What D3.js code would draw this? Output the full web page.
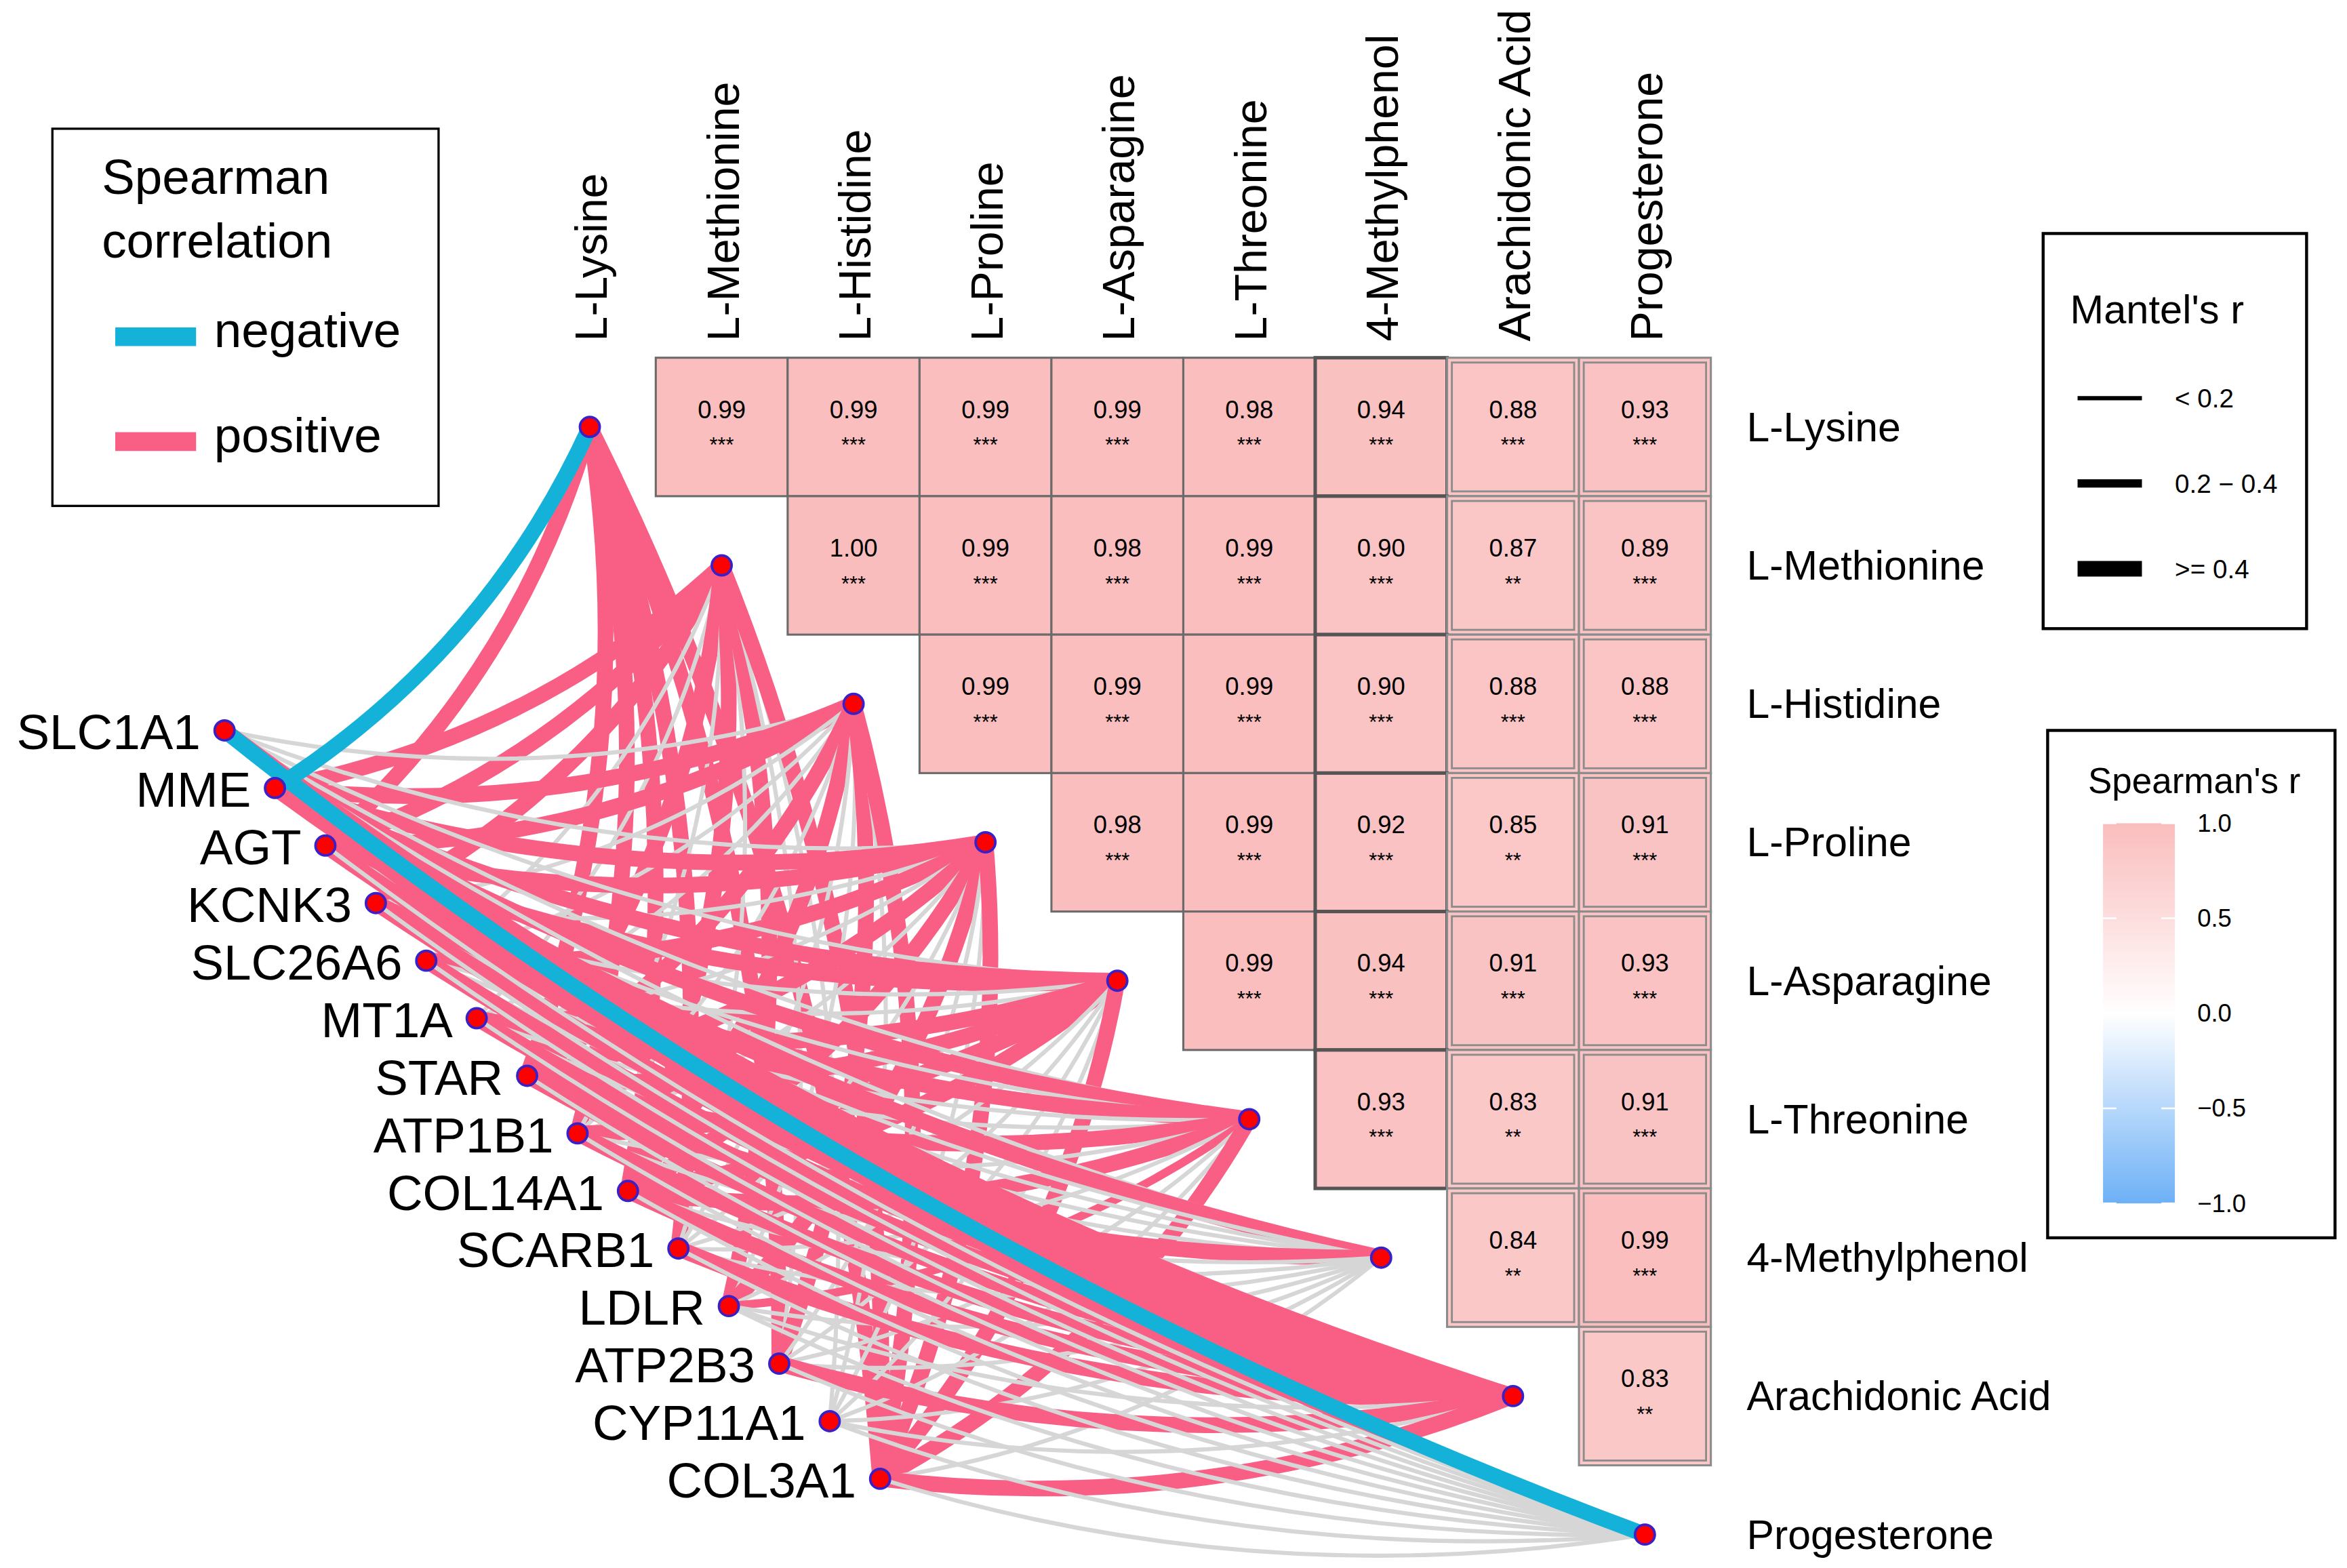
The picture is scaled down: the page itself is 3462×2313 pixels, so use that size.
<!DOCTYPE html>
<html><head><meta charset="utf-8">
<script src="https://cdn.jsdelivr.net/npm/d3@7"></script>
<style>
html,body{margin:0;padding:0;background:#fff;}
svg{display:block;}
text{font-family:"Liberation Sans",Arial,Helvetica,sans-serif;fill:#000;}
</style>
</head><body>
<svg id="chart" width="3462" height="2313" viewBox="0 0 1568 1047.6"></svg>
<script>
// ---------------- DATA ----------------
const metabolites = ["L-Lysine","L-Methionine","L-Histidine","L-Proline","L-Asparagine","L-Threonine","4-Methylphenol","Arachidonic Acid","Progesterone"];
const genes = ["SLC1A1","MME","AGT","KCNK3","SLC26A6","MT1A","STAR","ATP1B1","COL14A1","SCARB1","LDLR","ATP2B3","CYP11A1","COL3A1"];

// Spearman r between metabolites (upper triangle, row i starts at column i+1)
const rLysine      = [0.99,0.99,0.99,0.99,0.98,0.94,0.88,0.93];
const rMethionine  = [1.00,0.99,0.98,0.99,0.90,0.87,0.89];
const rHistidine   = [0.99,0.99,0.99,0.90,0.88,0.88];
const rProline     = [0.98,0.99,0.92,0.85,0.91];
const rAsparagine  = [0.99,0.94,0.91,0.93];
const rThreonine   = [0.93,0.83,0.91];
const rMethylphenol= [0.84,0.99];
const rArachidonic = [0.83];
const corrRows = [rLysine,rMethionine,rHistidine,rProline,rAsparagine,rThreonine,rMethylphenol,rArachidonic];

const sLysine      = ["***","***","***","***","***","***","***","***"];
const sMethionine  = ["***","***","***","***","***","**","***"];
const sHistidine   = ["***","***","***","***","***","***"];
const sProline     = ["***","***","***","**","***"];
const sAsparagine  = ["***","***","***","***"];
const sThreonine   = ["***","**","***"];
const sMethylphenol= ["**","***"];
const sArachidonic = ["**"];
const starRows = [sLysine,sMethionine,sHistidine,sProline,sAsparagine,sThreonine,sMethylphenol,sArachidonic];

// gene -> metabolite links (order of genes). pos/neg = Spearman sign, ns = grey
// number = Mantel's r class: 1 "< 0.2", 2 "0.2 - 0.4", 3 ">= 0.4"; "" = no link
const linkLysine      = ["","neg3","pos3","","","","pos3","pos3","pos3","pos3","","pos3","","pos3"];
const linkMethionine  = ["","pos3","pos3","pos3","ns1","ns1","pos3","ns1","pos3","ns1","pos3","ns1","ns1","pos3"];
const linkHistidine   = ["ns1","pos3","pos3","ns1","ns1","ns1","pos3","ns1","pos3","ns1","ns1","pos3","ns1","pos3"];
const linkProline     = ["ns1","pos3","pos3","ns1","pos3","ns1","pos3","ns1","pos3","ns1","pos3","ns1","ns1","pos3"];
const linkAsparagine  = ["ns1","pos3","pos3","ns1","ns1","pos3","pos3","pos3","pos3","ns1","ns1","ns1","ns1","pos3"];
const linkThreonine   = ["ns1","pos3","ns1","pos3","ns1","ns1","pos3","ns1","pos3","ns1","pos2","ns1","ns1","pos3"];
const linkMethylphenol= ["ns1","pos3","ns1","ns1","ns1","ns1","pos3","ns1","ns1","ns1","ns1","ns1","ns1","ns1"];
const linkArachidonic = ["pos3","pos3","pos3","pos3","pos3","pos3","pos3","pos3","pos3","pos3","ns1","pos3","ns1","pos3"];
const linkProgesterone= ["neg3","pos2","ns1","ns1","ns1","ns1","ns1","ns1","ns1","ns1","ns1","ns1","ns1","ns1"];
const linkRows = [linkLysine,linkMethionine,linkHistidine,linkProline,linkAsparagine,linkThreonine,linkMethylphenol,linkArachidonic,linkProgesterone];

const mantelBreaks = ["< 0.2","0.2 - 0.4",">= 0.4"];
const signLabels = ["negative","positive"];
const colorTicks = [1.0,0.5,0.0,-0.5,-1.0];

// ---------------- SCALES ----------------
const svg = d3.select("#chart");
const x = d3.scaleBand().domain(metabolites).range([350,1143]);
const y = d3.scaleBand().domain(metabolites).range([239,1071.5]);
const bw = x.bandwidth(), bh = y.bandwidth();
const gx = d3.scalePoint().domain(genes).range([150,588]);
const gy = d3.scalePoint().domain(genes).range([488,988]);
const fill = d3.scaleLinear().domain([-1,0,1]).range(["#6DB0F6","#FFFFFF","#FABDBD"]);
const edgeColor = d3.scaleOrdinal().domain(["neg","pos","ns"]).range(["#14B2D8","#F95F85","#D6D6D6"]);
const edgeWidth = d3.scaleOrdinal().domain([1,2,3]).range([2.8,5.5,10.5]);

// ---------------- HEATMAP ----------------
const cells = [];
corrRows.forEach((row,i)=>row.forEach((v,k)=>{
  const j = i+1+k;
  cells.push({i,j,v,s:starRows[i][k]});
}));
const gCells = svg.append("g");
cells.forEach(c=>{
  const x0 = x(metabolites[c.j]), y0 = y(metabolites[c.i]);
  gCells.append("rect").attr("x",x0).attr("y",y0).attr("width",bw).attr("height",bh)
    .attr("fill",fill(c.v))
    .attr("stroke", c.j===6 ? "#555" : (c.j>=7 ? "#8c8c8c" : "#6b6b6b"))
    .attr("stroke-width", c.j===6 ? 2.3 : 1.4);
  if(c.j>=7){
    gCells.append("rect").attr("x",x0+3.2).attr("y",y0+3.2).attr("width",bw-6.4).attr("height",bh-6.4)
      .attr("fill","none").attr("stroke","#8c8c8c").attr("stroke-width",1.3);
  }
  const cx = x0+bw/2, cy = y0+bh/2;
  gCells.append("text").attr("x",cx).attr("y",cy-6).attr("text-anchor","middle")
    .attr("font-size",16.5).attr("fill","#1a1a1a").text(d3.format(".2f")(c.v));
  gCells.append("text").attr("x",cx).attr("y",cy+17).attr("text-anchor","middle")
    .attr("font-size",14).attr("fill","#1a1a1a").text(c.s);
});

// column labels (top) and row labels (right)
metabolites.forEach(m=>{
  const cx = x(m)+bw/2;
  svg.append("text").attr("transform",`translate(${cx+1},228) rotate(-90)`)
    .attr("dominant-baseline","central").attr("font-size",30).text(m);
  svg.append("text").attr("x",1167).attr("y",y(m)+bh/2).attr("dominant-baseline","central")
    .attr("font-size",27.5).text(m);
});

// ---------------- LINKS ----------------
const links = [];
linkRows.forEach((row,mi)=>row.forEach((code,gi)=>{
  if(!code) return;
  const mt = code.match(/^([a-z]+)(\d)$/);
  links.push({m:metabolites[mi], g:genes[gi], sign:mt[1], cls:+mt[2]});
}));
const nodePos = m => [x(m)+bw/2, y(m)+bh/2];
function curvePath(d){
  const x1 = gx(d.g), y1 = gy(d.g);
  const [x2,y2] = nodePos(d.m);
  const dx = x2-x1, dy = y2-y1, L = Math.hypot(dx,dy);
  const k = 0.1*Math.sqrt(700/L);
  const cx = (x1+x2)/2 - k*dy, cy = (y1+y2)/2 + k*dx;
  const p = d3.path(); p.moveTo(x1,y1); p.quadraticCurveTo(cx,cy,x2,y2);
  return p.toString();
}
const ordered = links.filter(d=>d.sign!=="neg").concat(links.filter(d=>d.sign==="neg"));
svg.append("g").selectAll("path").data(ordered).join("path")
  .attr("d",curvePath).attr("fill","none")
  .attr("stroke",d=>edgeColor(d.sign)).attr("stroke-width",d=>edgeWidth(d.cls));

// nodes
svg.append("g").selectAll("circle").data(metabolites).join("circle")
  .attr("cx",m=>nodePos(m)[0]).attr("cy",m=>nodePos(m)[1]).attr("r",6.6)
  .attr("fill","#FF0000").attr("stroke","#3A20C8").attr("stroke-width",1.7);
svg.append("g").selectAll("circle").data(genes).join("circle")
  .attr("cx",g=>gx(g)).attr("cy",g=>gy(g)).attr("r",6.6)
  .attr("fill","#FF0000").attr("stroke","#3A20C8").attr("stroke-width",1.7);
svg.append("g").selectAll("text").data(genes).join("text")
  .attr("x",g=>gx(g)-16).attr("y",g=>gy(g)+1).attr("text-anchor","end")
  .attr("dominant-baseline","central").attr("font-size",33).text(g=>g);

// ---------------- LEGEND: Spearman correlation (sign) ----------------
const L1 = svg.append("g");
L1.append("rect").attr("x",35).attr("y",86).attr("width",258).attr("height",252)
  .attr("fill","#fff").attr("stroke","#000").attr("stroke-width",1.5);
L1.append("text").attr("x",68).attr("y",129.5).attr("font-size",33).text("Spearman");
L1.append("text").attr("x",68).attr("y",172).attr("font-size",33).text("correlation");
signLabels.forEach((s,i)=>{
  const yy = 225 + i*70;
  L1.append("line").attr("x1",77).attr("x2",131).attr("y1",yy).attr("y2",yy)
    .attr("stroke",edgeColor(s==="negative"?"neg":"pos")).attr("stroke-width",12.5);
  L1.append("text").attr("x",143).attr("y",yy+7).attr("font-size",33).text(s);
});

// ---------------- LEGEND: Mantel's r ----------------
const L2 = svg.append("g");
L2.append("rect").attr("x",1365).attr("y",156).attr("width",176).attr("height",264)
  .attr("fill","#fff").attr("stroke","#000").attr("stroke-width",2);
L2.append("text").attr("x",1383).attr("y",216).attr("font-size",27).text("Mantel's r");
mantelBreaks.forEach((b,i)=>{
  const yy = 266 + i*57;
  L2.append("line").attr("x1",1388).attr("x2",1431).attr("y1",yy).attr("y2",yy)
    .attr("stroke","#000").attr("stroke-width",edgeWidth(i+1));
  L2.append("text").attr("x",1453).attr("y",yy).attr("dominant-baseline","central")
    .attr("font-size",17.5).text(b.replace("-","\u2212"));
});

// ---------------- LEGEND: Spearman's r colourbar ----------------
const L3 = svg.append("g");
L3.append("rect").attr("x",1368).attr("y",488).attr("width",192).attr("height",339)
  .attr("fill","#fff").attr("stroke","#000").attr("stroke-width",2);
L3.append("text").attr("x",1395).attr("y",530).attr("font-size",24).text("Spearman's r");
const cb = d3.scaleLinear().domain([1,-1]).range([550,804]);
const grad = svg.append("defs").append("linearGradient").attr("id","cbar")
  .attr("x1",0).attr("y1",0).attr("x2",0).attr("y2",1);
d3.range(0,21).forEach(i=>{
  const v = 1 - i/10;
  grad.append("stop").attr("offset",i/20).attr("stop-color",fill(v));
});
L3.append("rect").attr("x",1405).attr("y",cb(1)).attr("width",48).attr("height",cb(-1)-cb(1))
  .attr("fill","url(#cbar)");
colorTicks.forEach(t=>{
  L3.append("line").attr("x1",1405).attr("x2",1414).attr("y1",cb(t)).attr("y2",cb(t))
    .attr("stroke","#fff").attr("stroke-width",1.2);
  L3.append("line").attr("x1",1444).attr("x2",1453).attr("y1",cb(t)).attr("y2",cb(t))
    .attr("stroke","#fff").attr("stroke-width",1.2);
  L3.append("text").attr("x",1468).attr("y",cb(t)).attr("dominant-baseline","central")
    .attr("font-size",16.5).attr("fill","#222").text(d3.format(".1f")(t).replace("-","\u2212"));
});
</script>
</body></html>
